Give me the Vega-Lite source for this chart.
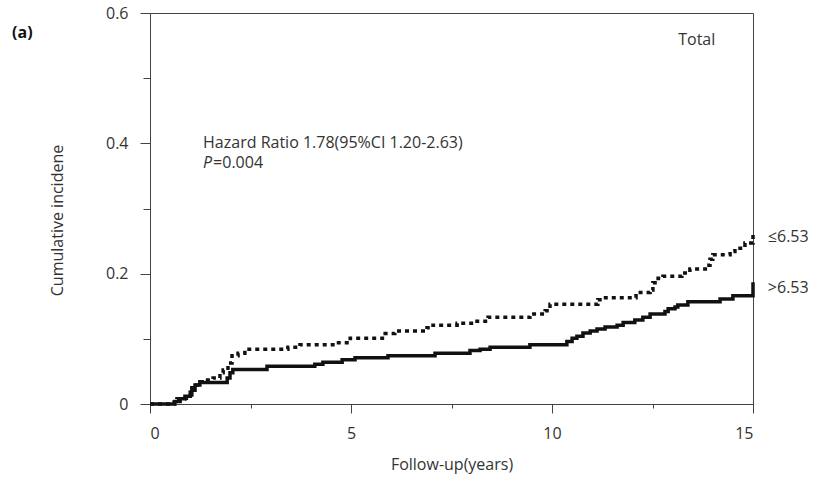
{
  "$schema": "https://vega.github.io/schema/vega-lite/v6.json",
  "width": 603,
  "height": 391,
  "autosize": {"type": "none"},
  "padding": {"left": 150, "top": 13, "right": 66, "bottom": 73},
  "config": {
    "view": {"stroke": "#444", "strokeWidth": 1},
    "font": "Open Sans",
    "axis": {"grid": false, "domainColor": "#444", "tickColor": "#444", "labelColor": "#333", "titleColor": "#333", "labelFont": "Open Sans", "titleFont": "Open Sans", "labelFontSize": 16, "titleFontSize": 16, "titleFontWeight": "normal"}
  },
  "datasets": {
    "curves": [
      {"group": ">6.53", "t": 0, "v": 0},
      {"group": ">6.53", "t": 0.62, "v": 0.004},
      {"group": ">6.53", "t": 0.75, "v": 0.008},
      {"group": ">6.53", "t": 0.87, "v": 0.012},
      {"group": ">6.53", "t": 1.0, "v": 0.018},
      {"group": ">6.53", "t": 1.04, "v": 0.025},
      {"group": ">6.53", "t": 1.12, "v": 0.029},
      {"group": ">6.53", "t": 1.24, "v": 0.033},
      {"group": ">6.53", "t": 1.92, "v": 0.040},
      {"group": ">6.53", "t": 1.99, "v": 0.048},
      {"group": ">6.53", "t": 2.06, "v": 0.053},
      {"group": ">6.53", "t": 2.91, "v": 0.058},
      {"group": ">6.53", "t": 4.10, "v": 0.061},
      {"group": ">6.53", "t": 4.30, "v": 0.064},
      {"group": ">6.53", "t": 4.78, "v": 0.068},
      {"group": ">6.53", "t": 5.10, "v": 0.071},
      {"group": ">6.53", "t": 5.92, "v": 0.074},
      {"group": ">6.53", "t": 7.09, "v": 0.078},
      {"group": ">6.53", "t": 7.96, "v": 0.082},
      {"group": ">6.53", "t": 8.21, "v": 0.084},
      {"group": ">6.53", "t": 8.46, "v": 0.087},
      {"group": ">6.53", "t": 9.45, "v": 0.091},
      {"group": ">6.53", "t": 10.37, "v": 0.096},
      {"group": ">6.53", "t": 10.50, "v": 0.101},
      {"group": ">6.53", "t": 10.62, "v": 0.104},
      {"group": ">6.53", "t": 10.77, "v": 0.109},
      {"group": ">6.53", "t": 10.95, "v": 0.112},
      {"group": ">6.53", "t": 11.12, "v": 0.115},
      {"group": ">6.53", "t": 11.32, "v": 0.118},
      {"group": ">6.53", "t": 11.62, "v": 0.121},
      {"group": ">6.53", "t": 11.77, "v": 0.125},
      {"group": ">6.53", "t": 12.06, "v": 0.129},
      {"group": ">6.53", "t": 12.26, "v": 0.133},
      {"group": ">6.53", "t": 12.44, "v": 0.138},
      {"group": ">6.53", "t": 12.81, "v": 0.142},
      {"group": ">6.53", "t": 12.89, "v": 0.146},
      {"group": ">6.53", "t": 13.06, "v": 0.149},
      {"group": ">6.53", "t": 13.13, "v": 0.152},
      {"group": ">6.53", "t": 13.38, "v": 0.157},
      {"group": ">6.53", "t": 14.18, "v": 0.161},
      {"group": ">6.53", "t": 14.50, "v": 0.166},
      {"group": ">6.53", "t": 14.99, "v": 0.166},
      {"group": ">6.53", "t": 15.0, "v": 0.187},
      {"group": "≤6.53", "t": 0, "v": 0},
      {"group": "≤6.53", "t": 0.6, "v": 0.003},
      {"group": "≤6.53", "t": 0.67, "v": 0.008},
      {"group": "≤6.53", "t": 0.87, "v": 0.009},
      {"group": "≤6.53", "t": 0.95, "v": 0.014},
      {"group": "≤6.53", "t": 1.04, "v": 0.021},
      {"group": "≤6.53", "t": 1.12, "v": 0.029},
      {"group": "≤6.53", "t": 1.24, "v": 0.034},
      {"group": "≤6.53", "t": 1.37, "v": 0.037},
      {"group": "≤6.53", "t": 1.57, "v": 0.040},
      {"group": "≤6.53", "t": 1.74, "v": 0.048},
      {"group": "≤6.53", "t": 1.82, "v": 0.052},
      {"group": "≤6.53", "t": 1.94, "v": 0.063},
      {"group": "≤6.53", "t": 2.04, "v": 0.074},
      {"group": "≤6.53", "t": 2.19, "v": 0.078},
      {"group": "≤6.53", "t": 2.36, "v": 0.084},
      {"group": "≤6.53", "t": 3.43, "v": 0.087},
      {"group": "≤6.53", "t": 3.73, "v": 0.091},
      {"group": "≤6.53", "t": 4.55, "v": 0.094},
      {"group": "≤6.53", "t": 4.98, "v": 0.101},
      {"group": "≤6.53", "t": 5.85, "v": 0.108},
      {"group": "≤6.53", "t": 6.09, "v": 0.112},
      {"group": "≤6.53", "t": 6.89, "v": 0.117},
      {"group": "≤6.53", "t": 7.04, "v": 0.121},
      {"group": "≤6.53", "t": 7.64, "v": 0.124},
      {"group": "≤6.53", "t": 8.08, "v": 0.127},
      {"group": "≤6.53", "t": 8.41, "v": 0.133},
      {"group": "≤6.53", "t": 9.45, "v": 0.138},
      {"group": "≤6.53", "t": 9.83, "v": 0.143},
      {"group": "≤6.53", "t": 9.95, "v": 0.153},
      {"group": "≤6.53", "t": 11.14, "v": 0.160},
      {"group": "≤6.53", "t": 11.27, "v": 0.163},
      {"group": "≤6.53", "t": 12.09, "v": 0.171},
      {"group": "≤6.53", "t": 12.44, "v": 0.175},
      {"group": "≤6.53", "t": 12.51, "v": 0.186},
      {"group": "≤6.53", "t": 12.64, "v": 0.193},
      {"group": "≤6.53", "t": 12.76, "v": 0.196},
      {"group": "≤6.53", "t": 13.23, "v": 0.201},
      {"group": "≤6.53", "t": 13.43, "v": 0.207},
      {"group": "≤6.53", "t": 13.86, "v": 0.213},
      {"group": "≤6.53", "t": 13.93, "v": 0.222},
      {"group": "≤6.53", "t": 14.0, "v": 0.229},
      {"group": "≤6.53", "t": 14.43, "v": 0.234},
      {"group": "≤6.53", "t": 14.55, "v": 0.239},
      {"group": "≤6.53", "t": 14.80, "v": 0.247},
      {"group": "≤6.53", "t": 14.99, "v": 0.247},
      {"group": "≤6.53", "t": 15.0, "v": 0.262}
    ],
    "notes": [
      {"label": "Total", "t": 13.6, "v": 0.559, "kind": "center"},
      {"label": "Hazard Ratio 1.78(95%CI 1.20-2.63)", "t": 1.32, "v": 0.4005, "kind": "left"},
      {"label": "P", "t": 1.32, "v": 0.370, "kind": "italic"},
      {"label": "=0.004", "t": 1.57, "v": 0.370, "kind": "left"},
      {"label": "≤6.53", "t": 15.37, "v": 0.256, "kind": "left"},
      {"label": ">6.53", "t": 15.37, "v": 0.178, "kind": "left"},
      {"label": "(a)", "t": -3.43, "v": 0.569, "kind": "bold"}
    ]
  },
  "layer": [
    {
      "data": {"name": "curves"},
      "mark": {"type": "line", "interpolate": "step-after", "color": "#111", "strokeCap": "butt"},
      "encoding": {
        "x": {
          "field": "t", "type": "quantitative",
          "scale": {"domain": [0, 15], "nice": false, "zero": false},
          "axis": {"values": [0, 2.5, 5, 7.5, 10, 12.5, 15], "labelExpr": "datum.value % 5 == 0 ? datum.label : ''", "tickSize": {"condition": {"test": "datum.value % 5 == 0", "value": 9}, "value": 4}, "labelPadding": 12, "title": "Follow-up(years)", "titlePadding": 15}
        },
        "y": {
          "field": "v", "type": "quantitative",
          "scale": {"domain": [0, 0.6], "nice": false},
          "axis": {"values": [0, 0.1, 0.2, 0.3, 0.4, 0.5, 0.6], "labelExpr": "datum.value == 0 ? '0' : (round(datum.value * 10) % 2 == 0 ? format(datum.value, '.1f') : '')", "tickSize": {"condition": {"test": "round(datum.value * 10) % 2 == 0", "value": 10}, "value": 7}, "labelPadding": 12, "title": "Cumulative incidene", "titleX": -85, "titleY": 207}
        },
        "detail": {"field": "group"},
        "strokeDash": {
          "field": "group", "type": "nominal",
          "scale": {"domain": [">6.53", "≤6.53"], "range": [[1, 0], [4, 4]]},
          "legend": null
        },
        "strokeWidth": {
          "field": "group", "type": "nominal",
          "scale": {"domain": [">6.53", "≤6.53"], "range": [3.5, 3.5]},
          "legend": null
        }
      }
    },
    {
      "data": {"name": "notes"},
      "transform": [{"filter": "datum.kind == 'left'"}],
      "mark": {"type": "text", "fontSize": 16, "color": "#333", "baseline": "middle", "align": "left", "clip": false},
      "encoding": {
        "x": {"field": "t", "type": "quantitative"},
        "y": {"field": "v", "type": "quantitative"},
        "text": {"field": "label"}
      }
    },
    {
      "data": {"name": "notes"},
      "transform": [{"filter": "datum.kind == 'italic'"}],
      "mark": {"type": "text", "fontSize": 16, "color": "#333", "baseline": "middle", "align": "left", "fontStyle": "italic", "clip": false},
      "encoding": {
        "x": {"field": "t", "type": "quantitative"},
        "y": {"field": "v", "type": "quantitative"},
        "text": {"field": "label"}
      }
    },
    {
      "data": {"name": "notes"},
      "transform": [{"filter": "datum.kind == 'center'"}],
      "mark": {"type": "text", "fontSize": 16, "color": "#333", "baseline": "middle", "align": "center", "clip": false},
      "encoding": {
        "x": {"field": "t", "type": "quantitative"},
        "y": {"field": "v", "type": "quantitative"},
        "text": {"field": "label"}
      }
    },
    {
      "data": {"name": "notes"},
      "transform": [{"filter": "datum.kind == 'bold'"}],
      "mark": {"type": "text", "fontSize": 16, "color": "#111", "baseline": "middle", "align": "left", "fontWeight": "bold", "clip": false},
      "encoding": {
        "x": {"field": "t", "type": "quantitative"},
        "y": {"field": "v", "type": "quantitative"},
        "text": {"field": "label"}
      }
    }
  ]
}
